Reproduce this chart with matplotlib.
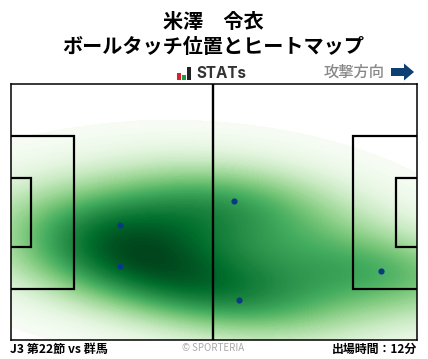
import matplotlib
matplotlib.use('Agg')
import matplotlib.pyplot as plt
import numpy as np
import seaborn as sns
from matplotlib.patches import Rectangle, FancyArrow

plt.rcParams['font.family'] = ['Noto Sans CJK JP', 'DejaVu Sans']

# Ball touch positions on a 105 x 68 pitch
touch_x = [28.3, 28.3, 57.8, 59.1, 95.8]
touch_y = [30.5, 19.6, 36.9, 10.6, 18.3]

title_name = '米澤　令衣'
title_sub = 'ボールタッチ位置とヒートマップ'
match_label = 'J3 第22節 vs 群馬'
minutes_label = '出場時間：12分'

fig = plt.figure(figsize=(4.28, 3.59), dpi=100)
ax = fig.add_axes([10.5 / 428, 1 - 340 / 359, 406 / 428, 256 / 359])

# Heatmap
sns.kdeplot(x=touch_x, y=touch_y, fill=True, cmap='Greens', levels=100, thresh=0.014,
            gridsize=200, cut=6, bw_adjust=1.08, ax=ax)

# Pitch lines
line_kw = dict(fill=False, edgecolor='black', linewidth=1.6, zorder=3)
ax.add_patch(Rectangle((-1, 13.6), 17.5, 40.6, **line_kw))
ax.add_patch(Rectangle((-1, 24.7), 6.3, 18.3, **line_kw))
ax.add_patch(Rectangle((88.5, 13.6), 17.5, 40.6, **line_kw))
ax.add_patch(Rectangle((99.7, 24.7), 6.5, 18.3, **line_kw))
ax.axvline(52.35, color='black', linewidth=1.7, zorder=3)

ax.scatter(touch_x, touch_y, s=20, color='#0a3a82', linewidth=0, zorder=4)

ax.set_xlim(0, 105)
ax.set_ylim(0, 68)
ax.set_xticks([])
ax.set_yticks([])
ax.set_xlabel('')
ax.set_ylabel('')
for s in ax.spines.values():
    s.set_linewidth(1.1)
    s.set_zorder(5)

# Titles
fig.text(213.5 / 428, 1 - 22 / 359, title_name, ha='center', va='center', fontsize=14.5, fontweight='bold')
fig.text(213.5 / 428, 1 - 46.5 / 359, title_sub, ha='center', va='center', fontsize=14.5, fontweight='bold')

# Overlay axes in pixel coordinates for logo and arrow
over = fig.add_axes([0, 0, 1, 1], facecolor='none')
over.set_xlim(0, 428)
over.set_ylim(359, 0)
over.axis('off')
over.add_patch(Rectangle((177, 73), 4.5, 7, color='#e01e26', linewidth=0))
over.add_patch(Rectangle((182, 75), 4.5, 5, color='#1a9a4a', linewidth=0))
over.add_patch(Rectangle((187.5, 67), 3.5, 13, color='#222222', linewidth=0))
over.text(196.5, 73.5, 'STATs', ha='left', va='center', fontsize=11, fontweight='bold', color='#333333',
          family='Inter')
over.text(385, 72, '攻撃方向', ha='right', va='center', fontsize=11, fontweight='medium', color='#888888')
over.add_patch(FancyArrow(391, 72, 23, 0, width=8, head_width=17, head_length=10,
                          length_includes_head=True, color='#0e3f73', linewidth=0))

# Footer
fig.text(10 / 428, 1 - 349.5 / 359, match_label, ha='left', va='center', fontsize=8.7, fontweight='bold')
fig.text(417 / 428, 1 - 349 / 359, minutes_label, ha='right', va='center', fontsize=8.6, fontweight='bold')
fig.text(213 / 428, 1 - 348 / 359, '© SPORTERIA', ha='center', va='center', fontsize=7, color='#aaaaaa')

fig.savefig('out.png', dpi=100)
